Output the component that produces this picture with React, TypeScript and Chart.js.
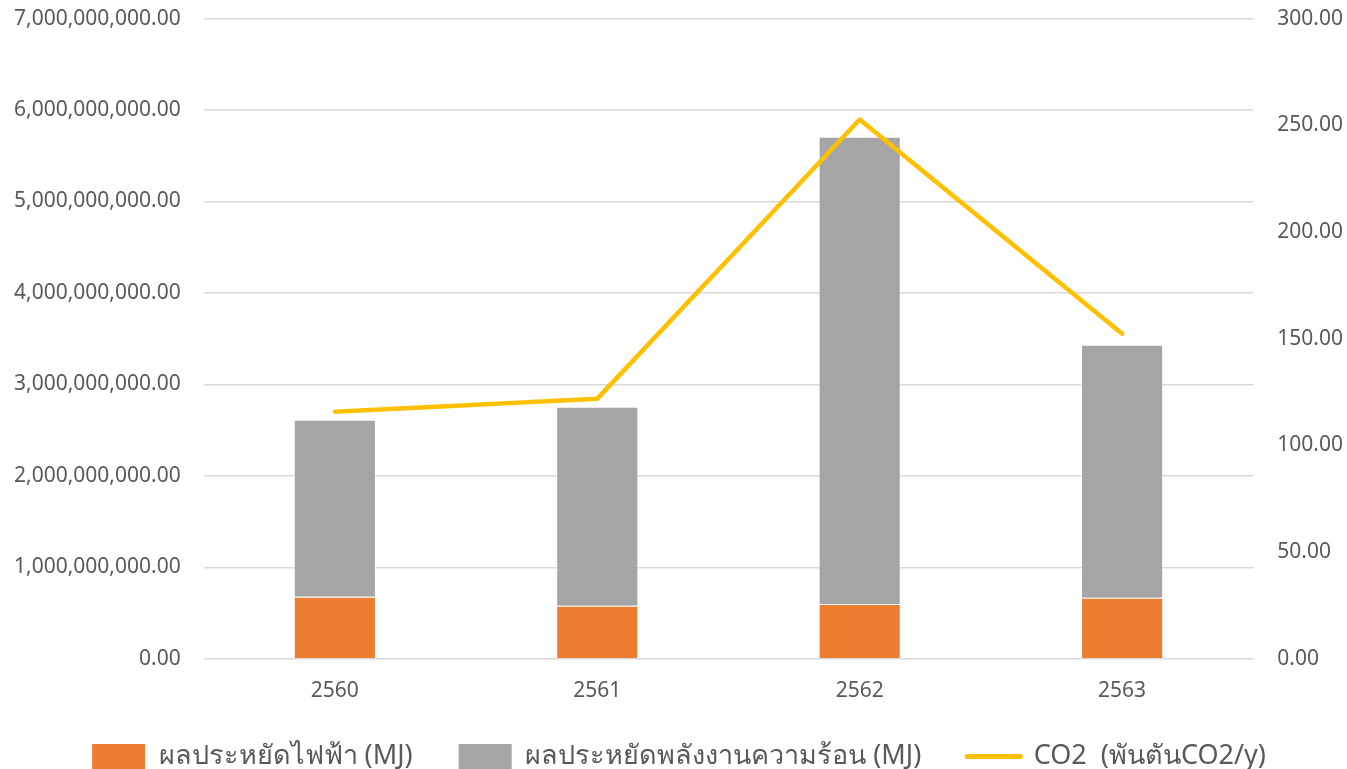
import React, { useEffect, useRef } from "react";
import { Chart, registerables } from "chart.js";

Chart.register(...registerables);

const categories = ["2560", "2561", "2562", "2563"];
const electricSaving = [678000000, 580000000, 600000000, 667000000];
const heatSaving = [1936000000, 2176000000, 5109000000, 2767000000];
const co2 = [115.8, 121.9, 252.7, 152.3];

const leftTicksMax = 7000000000;
const rightTicksMax = 300;

const FONT = "'Noto Sans', 'Open Sans', sans-serif";

export default function App() {
  const ref = useRef<HTMLCanvasElement | null>(null);

  useEffect(() => {
    if (!ref.current) return;
    const chart = new Chart(ref.current, {
      data: {
        labels: categories,
        datasets: [
          {
            type: "line",
            label: "CO2  (พันตันCO2/y)",
            data: co2,
            yAxisID: "y1",
            borderColor: "#FFC000",
            backgroundColor: "#FFC000",
            borderWidth: 4.5,
            borderCapStyle: "round",
            borderJoinStyle: "round",
            pointRadius: 0,
            pointStyle: "line",
            order: 0,
          },
          {
            type: "bar",
            label: "ผลประหยัดไฟฟ้า (MJ)",
            data: electricSaving,
            yAxisID: "y",
            backgroundColor: "#ED7D31",
            borderColor: "rgba(255,255,255,0.6)",
            borderWidth: 1,
            stack: "s",
            categoryPercentage: 0.313,
            barPercentage: 1,
            pointStyle: "rect",
            order: 1,
          },
          {
            type: "bar",
            label: "ผลประหยัดพลังงานความร้อน (MJ)",
            data: heatSaving,
            yAxisID: "y",
            backgroundColor: "#A5A5A5",
            borderColor: "rgba(255,255,255,0.6)",
            borderWidth: 1,
            stack: "s",
            categoryPercentage: 0.313,
            barPercentage: 1,
            pointStyle: "rect",
            order: 2,
          },
        ],
      } as any,
      options: {
        animation: false,
        responsive: true,
        maintainAspectRatio: false,
        layout: { padding: { top: 0, left: -17, right: -20, bottom: 0 } },
        plugins: {
          tooltip: { enabled: false },
          legend: {
            position: "bottom",
            labels: {
              color: "#595959",
              font: { family: FONT, size: 27 },
              usePointStyle: true,
              pointStyleWidth: 53,
              boxHeight: 25,
              padding: 46,
              sort: (a: any, b: any) => {
                const order = [1, 2, 0];
                return order.indexOf(a.datasetIndex) - order.indexOf(b.datasetIndex);
              },
              generateLabels: (c: any) => {
                const items = Chart.defaults.plugins.legend.labels.generateLabels(c);
                return items.map((it: any) => {
                  if (it.datasetIndex === 0) {
                    return { ...it, pointStyle: "line", lineWidth: 5, strokeStyle: "#FFC000", lineCap: "round" };
                  }
                  const ds = c.data.datasets[it.datasetIndex];
                  return { ...it, pointStyle: "rect", lineWidth: 0, strokeStyle: ds.backgroundColor, fillStyle: ds.backgroundColor };
                });
              },
            },
          },
        },
        scales: {
          x: {
            stacked: true,
            grid: { display: false },
            border: { display: false },
            ticks: { color: "#595959", font: { family: FONT, size: 21 }, padding: 12 },
            afterFit: (scale: any) => {
              scale.height -= 19;
            },
          },
          y: {
            stacked: true,
            position: "left",
            min: 0,
            max: leftTicksMax,
            ticks: {
              stepSize: 1000000000,
              color: "#595959",
              font: { family: FONT, size: 21 },
              padding: 23,
              callback: (v: any) =>
                Number(v).toLocaleString("en-US", { minimumFractionDigits: 2, maximumFractionDigits: 2 }),
            },
            grid: { color: "#D9D9D9", lineWidth: 1.5, drawTicks: false },
            border: { display: false },
          },
          y1: {
            position: "right",
            min: 0,
            max: rightTicksMax,
            ticks: {
              stepSize: 50,
              color: "#595959",
              font: { family: FONT, size: 21 },
              padding: 24,
              callback: (v: any) =>
                Number(v).toLocaleString("en-US", { minimumFractionDigits: 2, maximumFractionDigits: 2 }),
            },
            grid: { display: false, drawTicks: false },
            border: { display: false },
          },
        },
      },
    });
    return () => chart.destroy();
  }, []);

  return (
    <div style={{ position: "absolute", left: 0, top: 0, width: 1347, height: 769, overflow: "hidden" }}>
      <div style={{ position: "absolute", left: 8, top: -18, width: 1339, height: 798 }}>
        <canvas ref={ref} />
      </div>
    </div>
  );
}
